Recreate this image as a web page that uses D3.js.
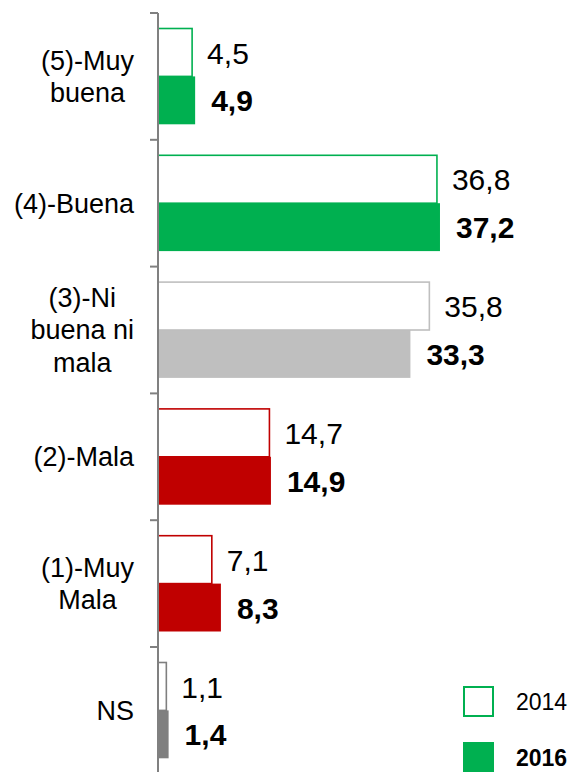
<!DOCTYPE html>
<html>
<head>
<meta charset="utf-8">
<script src="https://cdn.jsdelivr.net/npm/d3@7"></script>
<style>
  body { margin: 0; background: #fff; }
  text { font-family: "Liberation Sans", Arial, sans-serif; fill: #000; }
</style>
</head>
<body>
<div id="chart"></div>
<script>
// categories (top to bottom), each label split into lines
const categories = ['(5)-Muy buena', '(4)-Buena', '(3)-Ni buena ni mala', '(2)-Mala', '(1)-Muy Mala', 'NS'];
const categoryLines = [['(5)-Muy', 'buena'], ['(4)-Buena'], ['(3)-Ni', 'buena ni', 'mala'], ['(2)-Mala'], ['(1)-Muy', 'Mala'], ['NS']];
const years = ['2014', '2016'];
const values2014 = [4.5, 36.8, 35.8, 14.7, 7.1, 1.1];
const values2016 = [4.9, 37.2, 33.3, 14.9, 8.3, 1.4];
const categoryColors = ['#00b050', '#00b050', '#bfbfbf', '#c00000', '#c00000', '#7f7f7f'];

const width = 571, height = 772;
const margin = {top: 13, left: 158};
const bandStep = 126.8;

const svg = d3.select('#chart').append('svg')
    .attr('width', width)
    .attr('height', height);

const x = d3.scaleLinear()
    .domain([0, 40])
    .range([margin.left, margin.left + 40 * 7.58]);

const y = d3.scaleBand()
    .domain(categories)
    .range([margin.top, margin.top + bandStep * categories.length]);

// two bars inside every band
const yInner = d3.scaleBand()
    .domain(years)
    .range([15.5, y.bandwidth() - 15.5]);

const rows = categories.map((c, i) => ({
  cat: c, lines: categoryLines[i], color: categoryColors[i],
  v2014: values2014[i], v2016: values2016[i]
}));

const fmt = v => d3.format('.1f')(v).replace('.', ',');

// bars 2016 (filled)
svg.selectAll('.bar2016')
    .data(rows)
  .join('rect')
    .attr('class', 'bar2016')
    .attr('x', x(0))
    .attr('y', d => y(d.cat) + yInner('2016'))
    .attr('width', d => x(d.v2016) - x(0))
    .attr('height', yInner.bandwidth())
    .attr('fill', d => d.color);

// bars 2014 (outlined)
svg.selectAll('.bar2014')
    .data(rows)
  .join('rect')
    .attr('class', 'bar2014')
    .attr('x', x(0))
    .attr('y', d => y(d.cat) + yInner('2014'))
    .attr('width', d => x(d.v2014) - x(0))
    .attr('height', yInner.bandwidth())
    .attr('fill', '#fff')
    .attr('stroke', d => d.color)
    .attr('stroke-width', 1.6);

// value labels
svg.selectAll('.lab2014')
    .data(rows)
  .join('text')
    .attr('class', 'lab2014')
    .attr('x', d => x(d.v2014) + 15)
    .attr('y', d => y(d.cat) + yInner('2014') + yInner.bandwidth() / 2)
    .attr('dy', '0.37em')
    .style('font-size', '30px')
    .text(d => fmt(d.v2014));

svg.selectAll('.lab2016')
    .data(rows)
  .join('text')
    .attr('class', 'lab2016')
    .attr('x', d => x(d.v2016) + 16)
    .attr('y', d => y(d.cat) + yInner('2016') + yInner.bandwidth() / 2)
    .attr('dy', '0.37em')
    .style('font-size', '30px')
    .style('font-weight', 'bold')
    .text(d => fmt(d.v2016));

// axis line with ticks at band boundaries
const axisColor = '#808080';
svg.append('line')
    .attr('x1', x(0)).attr('x2', x(0))
    .attr('y1', margin.top).attr('y2', height)
    .attr('stroke', axisColor)
    .attr('stroke-width', 2);

svg.selectAll('.tick')
    .data(categories)
  .join('line')
    .attr('class', 'tick')
    .attr('x1', x(0) - 8).attr('x2', x(0))
    .attr('y1', d => y(d)).attr('y2', d => y(d))
    .attr('stroke', axisColor)
    .attr('stroke-width', 2);

// category labels: lines centred on the widest line, block right-aligned
const labelRight = 134;
const lineHeight = 32.5;
const fontSize = 27;
rows.forEach(d => {
  const g = svg.append('g');
  const n = d.lines.length;
  const cy = y(d.cat) + y.bandwidth() / 2;
  const texts = d.lines.map((ln, j) => g.append('text')
      .attr('text-anchor', 'middle')
      .attr('y', cy + (j - (n - 1) / 2) * lineHeight)
      .attr('dy', '0.35em')
      .style('font-size', fontSize + 'px')
      .text(ln));
  const maxW = d3.max(texts, t => t.node().getComputedTextLength());
  texts.forEach(t => t.attr('x', labelRight - maxW / 2));
});

// legend
const legend = svg.append('g');
const legendX = 463, legendY = 686, box = 31, legendStep = 56;
legend.selectAll('rect')
    .data(years)
  .join('rect')
    .attr('x', legendX + 1)
    .attr('y', (d, i) => legendY + i * legendStep + 1)
    .attr('width', box - 2)
    .attr('height', box - 2)
    .attr('fill', (d, i) => i === 0 ? '#fff' : '#00b050')
    .attr('stroke', '#00b050')
    .attr('stroke-width', 2);

legend.selectAll('text')
    .data(years)
  .join('text')
    .attr('x', 516)
    .attr('y', (d, i) => legendY + i * legendStep + box / 2 + 8.5)
    .style('font-size', '23px')
    .style('font-weight', (d, i) => i === 0 ? 'normal' : 'bold')
    .text(d => d);
</script>
</body>
</html>
